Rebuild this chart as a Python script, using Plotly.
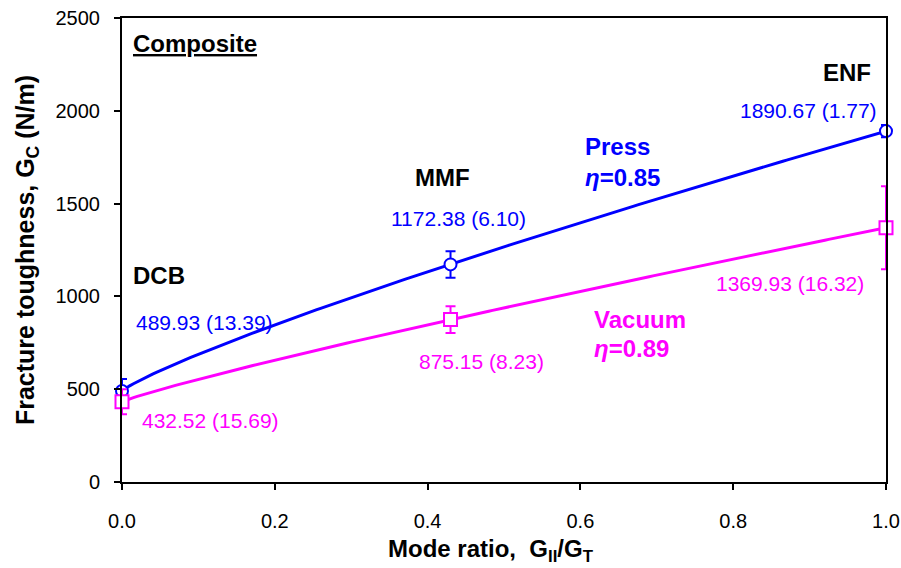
import numpy as np
import plotly.graph_objects as go

# Data
mode_ratio = [0.0, 0.43, 1.0]
press_gc = [489.93, 1172.38, 1890.67]
press_cv = [13.39, 6.10, 1.77]
vacuum_gc = [432.52, 875.15, 1369.93]
vacuum_cv = [15.69, 8.23, 16.32]
press_eta = 0.85
vacuum_eta = 0.89
test_names = ["DCB", "MMF", "ENF"]

BLUE = "#0000FF"
MAG = "#FF00FF"
FONT = "Liberation Sans, Arial, sans-serif"

press_sd = [g * c / 100 for g, c in zip(press_gc, press_cv)]
vac_sd = [g * c / 100 for g, c in zip(vacuum_gc, vacuum_cv)]

# B-K criterion fit curves
xs = np.linspace(0, 1, 201)
press_fit = press_gc[0] + (press_gc[2] - press_gc[0]) * xs ** press_eta
vac_fit = vacuum_gc[0] + (vacuum_gc[2] - vacuum_gc[0]) * xs ** vacuum_eta

fig = go.Figure()
fig.add_trace(go.Scatter(x=xs, y=press_fit, mode="lines", line=dict(color=BLUE, width=3), showlegend=False, cliponaxis=False))
fig.add_trace(go.Scatter(x=xs, y=vac_fit, mode="lines", line=dict(color=MAG, width=3), showlegend=False, cliponaxis=False))
fig.add_trace(go.Scatter(
    x=mode_ratio, y=press_gc, mode="markers", showlegend=False, cliponaxis=False,
    marker=dict(symbol="circle", size=12, color="white", line=dict(color=BLUE, width=2)),
    error_y=dict(type="data", array=press_sd, color=BLUE, thickness=2, width=5)))
fig.add_trace(go.Scatter(
    x=mode_ratio, y=vacuum_gc, mode="markers", showlegend=False, cliponaxis=False,
    marker=dict(symbol="square", size=13, color="white", line=dict(color=MAG, width=2)),
    error_y=dict(type="data", array=vac_sd, color=MAG, thickness=2, width=5)))

ann = []
def add(text, x, y, color="black", size=21, bold=False, xanchor="center"):
    if bold:
        text = "<b>" + text + "</b>"
    ann.append(dict(text=text, x=x, y=y, xref="x", yref="y", showarrow=False,
                    xanchor=xanchor, yanchor="middle",
                    font=dict(family=FONT, size=size, color=color)))

add("<u>Composite</u>", 0.012, 2365, size=24, bold=True, xanchor="left")
add(test_names[0], 0.012, 1110, size=24, bold=True, xanchor="left")
add(test_names[1], 0.420, 1643, size=24, bold=True)
add(test_names[2], 0.949, 2204, size=24, bold=True)

add(f"{press_gc[0]:.2f} ({press_cv[0]:.2f})", 0.0157, 857, color=BLUE, xanchor="left")
add(f"{press_gc[1]:.2f} ({press_cv[1]:.2f})", 0.440, 1422, color=BLUE)
add(f"{press_gc[2]:.2f} ({press_cv[2]:.2f})", 0.898, 2004, color=BLUE)
add(f"{vacuum_gc[0]:.2f} ({vacuum_cv[0]:.2f})", 0.0236, 334, color=MAG, xanchor="left")
add(f"{vacuum_gc[1]:.2f} ({vacuum_cv[1]:.2f})", 0.470, 647, color=MAG)
add(f"{vacuum_gc[2]:.2f} ({vacuum_cv[2]:.2f})", 0.874, 1067, color=MAG)

add("Press", 0.603, 1805, color=BLUE, size=24, bold=True, xanchor="left")
add(f"<i>η</i>={press_eta:.2f}", 0.603, 1643, color=BLUE, size=24, bold=True, xanchor="left")
add("Vacuum", 0.615, 878, color=MAG, size=24, bold=True, xanchor="left")
add(f"<i>η</i>={vacuum_eta:.2f}", 0.615, 722, color=MAG, size=24, bold=True, xanchor="left")

# x-axis title (slightly left of centre, as in the reference)
ann.append(dict(text="<b>Mode ratio,  G<sub>II</sub>/G<sub>T</sub></b>", x=0.483, y=-0.147,
                xref="paper", yref="paper", showarrow=False, xanchor="center", yanchor="middle",
                font=dict(family=FONT, size=24, color="black")))

fig.update_layout(
    width=901, height=568,
    margin=dict(l=122, r=15, t=18, b=86),
    paper_bgcolor="white", plot_bgcolor="white",
    font=dict(family=FONT, size=20, color="black"),
    annotations=ann,
    xaxis=dict(range=[0, 1], tickvals=[0, 0.2, 0.4, 0.6, 0.8, 1.0], tickformat=".1f",
               showgrid=False, zeroline=False, showline=True, linecolor="black", linewidth=2,
               mirror=True, ticks="outside", ticklen=6, tickwidth=1.5, tickcolor="black",
               tickfont=dict(size=20), automargin=False, ticklabelstandoff=14),
    yaxis=dict(range=[0, 2500], tickvals=[0, 500, 1000, 1500, 2000, 2500],
               showgrid=False, zeroline=False, showline=True, linecolor="black", linewidth=2,
               mirror=True, ticks="outside", ticklen=6, tickwidth=1.5, tickcolor="black",
               tickfont=dict(size=20), automargin=False, ticklabelstandoff=10,
               title=dict(text="<b>Fracture toughness, G<sub>C</sub> (N/m)</b>", font=dict(size=25), standoff=14)),
)

fig.write_html("out.html", post_script="document.body.style.margin='0';",
               config={"displayModeBar": False})
